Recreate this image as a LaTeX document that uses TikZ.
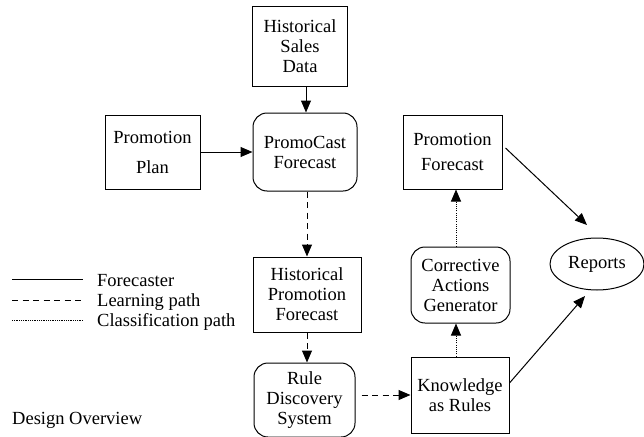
\documentclass[tikz,border=0pt]{standalone}
\usepackage{fontspec}
\setmainfont{Liberation Serif}
\usetikzlibrary{arrows.meta,shapes.geometric,calc}
\begin{document}
\begin{tikzpicture}[x=1pt,y=-1pt,
  txt/.style={font=\fontsize{18.5}{20}\selectfont},
  box/.style={draw, line width=1pt, inner sep=0pt, align=center, txt},
  rbox/.style={box, rounded corners=14pt},
  arr/.style={line width=1pt, -{Triangle[length=12pt,width=10pt]}},
  dsh/.style={arr, dash pattern=on 6pt off 4.5pt},
  dotl/.style={arr, dash pattern=on 1pt off 1.2pt},
  legline/.style={line width=1pt}
]
\useasboundingbox (0,0) rectangle (644,436);

\node[box, minimum width=95pt, minimum height=79pt] (hsd) at (300,46.5) {Historical\\Sales\\Data};
\node[box, minimum width=95pt, minimum height=74pt] (plan) at (152.5,152) {Promotion\\[10pt]Plan};
\node[rbox, minimum width=104pt, minimum height=78pt] (pc) at (305,152) {PromoCast\\Forecast};
\node[box, minimum width=108pt, minimum height=75pt] (hpf) at (307,294.5) {Historical\\Promotion\\Forecast};
\node[rbox, minimum width=101pt, minimum height=74pt] (rds) at (304.5,400) {Rule\\Discovery\\System};
\node[box, minimum width=98pt, minimum height=76pt] (kr) at (460,395) {Knowledge\\as Rules};
\node[rbox, minimum width=99pt, minimum height=76pt] (cag) at (460.5,285) {Corrective\\Actions\\Generator};
\node[box, minimum width=99pt, minimum height=74pt] (pf) at (452.5,152) {Promotion\\[5pt]Forecast};
\node[draw, line width=1pt, ellipse, inner sep=0pt, minimum width=94pt, minimum height=52pt, txt] (rep) at (597,264) {Reports};

\draw[arr] ([shift={(6,0)}]hsd.south) -- ([shift={(1,0)}]pc.north);
\draw[arr] (plan.east) -- (pc.west);
\draw[dsh] (pc.south -| hpf.north) -- (hpf.north);
\draw[dsh] (hpf.south) -- (hpf.south |- rds.north);
\draw[dsh] ($(rds.east |- kr.west)+(6,0)$) -- (kr.west);
\draw[dotl] ([shift={(-4,0)}]kr.north) -- ([shift={(-4.5,0)}]cag.south);
\draw[dotl] ([shift={(-4.5,0)}]cag.north) -- ([shift={(3.5,0)}]pf.south);
\draw[arr] ([shift={(3,-4)}]pf.east) -- ([shift={(-10,-39)}]rep.center);
\draw[arr] ([shift={(0,-12)}]kr.east) -- ([shift={(-12,32)}]rep.center);

% legend
\coordinate (l1a) at (12,279); \coordinate (l1b) at (83,279);
\coordinate (l2a) at (12,300); \coordinate (l2b) at (83,300);
\coordinate (l3a) at (12,320); \coordinate (l3b) at (83,320);
\draw[legline] (l1a) -- (l1b);
\draw[legline, dash pattern=on 6pt off 4.5pt] (l2a) -- (l2b);
\draw[line width=0.8pt, dash pattern=on 0.8pt off 1pt] (l3a) -- (l3b);
\node[txt, anchor=west, inner sep=0pt] (t1) at (97,281) {Forecaster};
\node[txt, anchor=west, inner sep=0pt] (t2) at (97,302) {Learning path};
\node[txt, anchor=west, inner sep=0pt] (t3) at (97,322) {Classification path};
\node[txt, anchor=west, inner sep=0pt] (title) at (12,420) {Design Overview};
\end{tikzpicture}
\end{document}
